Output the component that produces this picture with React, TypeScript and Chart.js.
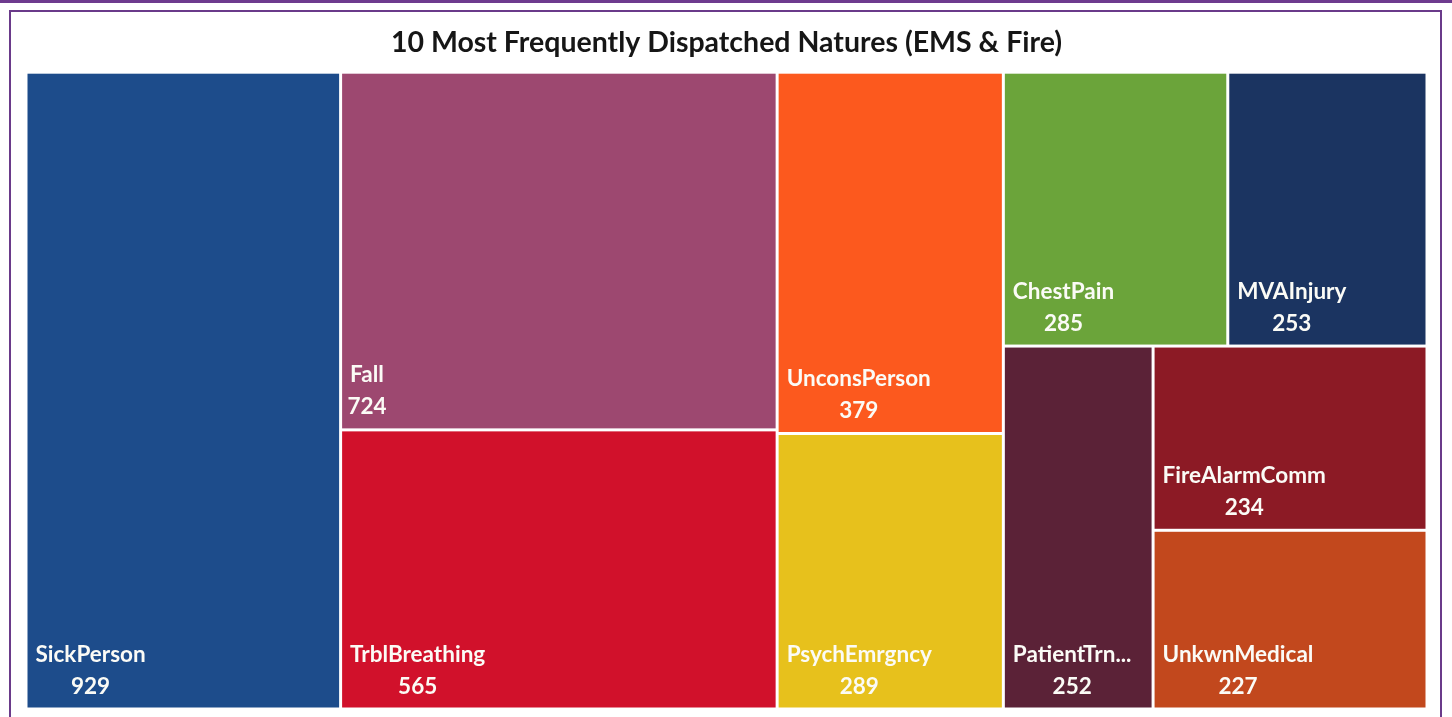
import React, { useEffect, useRef } from 'react';
import { Chart, registerables } from 'chart.js';

Chart.register(...registerables);

const titleText = '10 Most Frequently Dispatched Natures (EMS & Fire)';

const categories = [
  'SickPerson',
  'Fall',
  'TrblBreathing',
  'UnconsPerson',
  'PsychEmrgncy',
  'ChestPain',
  'MVAInjury',
  'PatientTrn...',
  'FireAlarmComm',
  'UnkwnMedical',
];

const counts = [929, 724, 565, 379, 289, 285, 253, 252, 234, 227];

const colors = [
  '#1d4c8b',
  '#9d4870',
  '#d1112b',
  '#fc591e',
  '#e7c11c',
  '#6ba43a',
  '#1b3461',
  '#5b2237',
  '#8c1a25',
  '#c2481d',
];

// Treemap grouping (indices into categories), 'h' = split left→right, 'v' = split top→bottom
type TNode = number | { dir: 'h' | 'v'; children: TNode[] };
const layoutTree: TNode = {
  dir: 'h',
  children: [
    0,
    { dir: 'v', children: [1, 2] },
    { dir: 'v', children: [3, 4] },
    {
      dir: 'v',
      children: [
        { dir: 'h', children: [5, 6] },
        { dir: 'h', children: [7, { dir: 'v', children: [8, 9] }] },
      ],
    },
  ],
};

function nodeSum(node: TNode): number {
  if (typeof node === 'number') return counts[node];
  return node.children.reduce((s, c) => s + nodeSum(c), 0);
}

type VRect = { i: number; x0: number; y0: number; x1: number; y1: number };

function layoutRects(node: TNode, x0: number, y0: number, x1: number, y1: number, out: VRect[]) {
  if (typeof node === 'number') {
    out.push({ i: node, x0, y0, x1, y1 });
    return;
  }
  const total = nodeSum(node);
  let pos = node.dir === 'h' ? x0 : y0;
  for (const child of node.children) {
    const frac = nodeSum(child) / total;
    if (node.dir === 'h') {
      const w = (x1 - x0) * frac;
      layoutRects(child, pos, y0, pos + w, y1, out);
      pos += w;
    } else {
      const h = (y1 - y0) * frac;
      layoutRects(child, x0, pos, x1, pos + h, out);
      pos += h;
    }
  }
}

const framePlugin = {
  id: 'frame',
  beforeDraw(chart: any) {
    const { ctx, width, height } = chart;
    ctx.save();
    ctx.fillStyle = '#ffffff';
    ctx.fillRect(0, 0, width, height);
    ctx.fillStyle = '#6e3b8e';
    ctx.fillRect(0, 0, width, 3);
    ctx.fillStyle = '#6a3a8a';
    ctx.fillRect(9, 10, width - 9 - 10, 2);
    ctx.fillRect(9, 10, 2, height - 10);
    ctx.fillRect(width - 12, 10, 2, height - 10);
    ctx.restore();
  },
};

const treemapPlugin = {
  id: 'treemap',
  afterDatasetsDraw(chart: any) {
    const { ctx } = chart;
    const xs = chart.scales.x;
    const ys = chart.scales.y;
    const rects: VRect[] = [];
    layoutRects(layoutTree, 0, 0, 1, 1, rects);
    const g = 1.5;
    ctx.save();
    for (const r of rects) {
      const px0 = xs.getPixelForValue(r.x0) + g;
      const px1 = xs.getPixelForValue(r.x1) - g;
      const py0 = ys.getPixelForValue(r.y0) + g;
      const py1 = ys.getPixelForValue(r.y1) - g;
      ctx.fillStyle = colors[r.i];
      ctx.fillRect(px0, py0, px1 - px0, py1 - py0);

      ctx.fillStyle = '#fbfbf6';
      ctx.font = 'bold 22.5px Lato';
      ctx.textBaseline = 'alphabetic';
      ctx.textAlign = 'left';
      const name = categories[r.i];
      const nx = px0 + 8;
      ctx.fillText(name, nx, py1 - 46);
      const nw = ctx.measureText(name).width;
      ctx.textAlign = 'center';
      ctx.fillText(String(counts[r.i]), nx + nw / 2, py1 - 14);
    }
    ctx.restore();
  },
};

export default function App() {
  const canvasRef = useRef<HTMLCanvasElement | null>(null);

  useEffect(() => {
    if (!canvasRef.current) return;
    const chart = new Chart(canvasRef.current, {
      type: 'scatter',
      data: { datasets: [{ data: [] }] },
      options: {
        responsive: true,
        maintainAspectRatio: false,
        animation: false,
        events: [],
        layout: { padding: { left: 26, right: 25, top: 10, bottom: 8 } },
        plugins: {
          legend: { display: false },
          tooltip: { enabled: false },
          title: {
            display: true,
            text: titleText,
            color: '#161616',
            font: { family: 'Lato', size: 28.5, weight: 'bold', lineHeight: 1.2 },
            padding: { top: 16, bottom: 12 },
          },
        },
        scales: {
          x: { type: 'linear', display: false, min: 0, max: 1 },
          y: { type: 'linear', display: false, min: 0, max: 1, reverse: true },
        },
      },
      plugins: [framePlugin, treemapPlugin],
    } as any);
    return () => chart.destroy();
  }, []);

  return (
    <div style={{ position: 'fixed', left: 0, top: 0, width: 1452, height: 717, background: '#fff' }}>
      <canvas ref={canvasRef} />
    </div>
  );
}
